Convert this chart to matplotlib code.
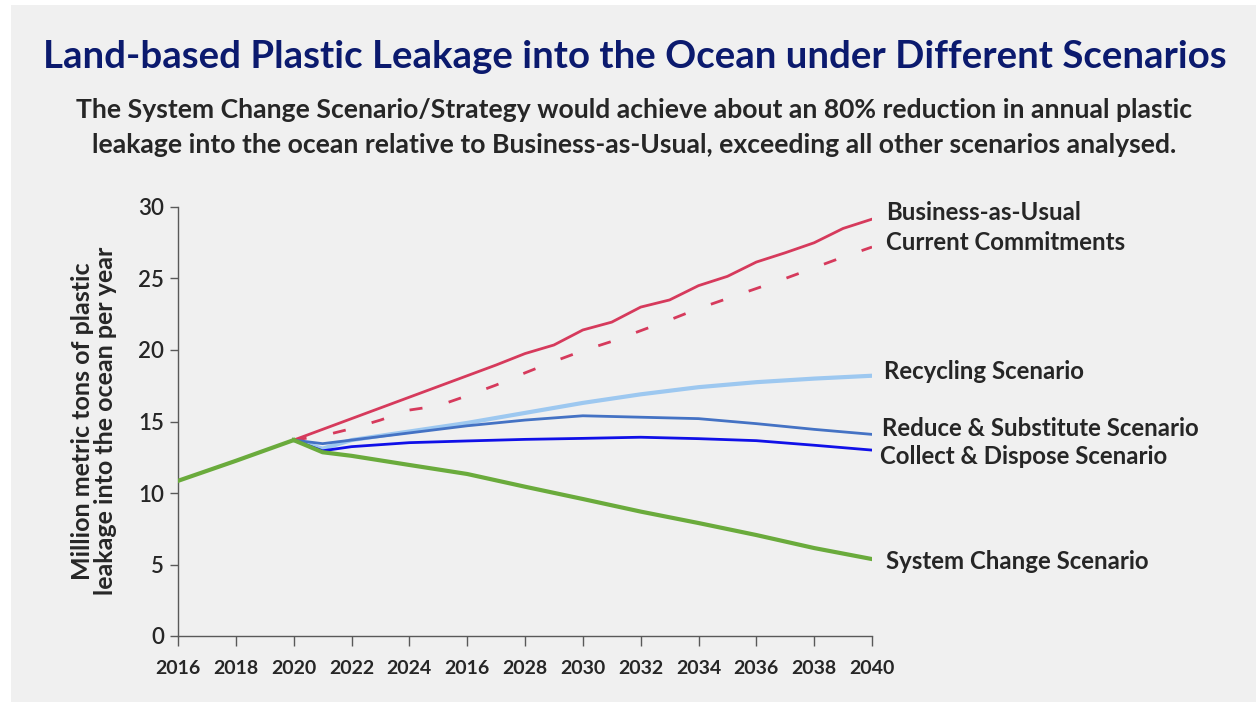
import matplotlib.pyplot as plt
from matplotlib.patches import Rectangle

plt.rcParams['font.family'] = ['Lato', 'DejaVu Sans']

# ---- data (million metric tons per year) ----
hist_years = [2016, 2018, 2020]
hist_vals = [10.85, 12.25, 13.7]

years = list(range(2020, 2041))
bau = [13.7, 14.45, 15.2, 15.95, 16.7, 17.45, 18.2, 18.95, 19.75, 20.35, 21.4,
       21.95, 23.0, 23.5, 24.5, 25.15, 26.15, 26.8, 27.5, 28.5, 29.15]
commitments = [13.7, 14.0, 14.5, 15.1, 15.8, 16.1, 16.8, 17.55, 18.4, 19.2, 19.95,
               20.6, 21.35, 22.1, 22.9, 23.6, 24.3, 25.0, 25.75, 26.5, 27.2]

sc_years = [2020, 2021, 2022, 2024, 2026, 2028, 2030, 2032, 2034, 2036, 2038, 2040]
recycling = [13.7, 13.1, 13.7, 14.3, 14.9, 15.6, 16.3, 16.9, 17.4, 17.75, 18.0, 18.2]
reduce_sub = [13.7, 13.45, 13.7, 14.2, 14.7, 15.1, 15.4, 15.3, 15.2, 14.85, 14.45, 14.1]
collect = [13.7, 12.95, 13.24, 13.52, 13.64, 13.75, 13.82, 13.9, 13.8, 13.66, 13.34, 13.0]
system_change = [13.7, 12.85, 12.6, 11.96, 11.33, 10.44, 9.58, 8.7, 7.9, 7.06, 6.15, 5.38]

tick_years = list(range(2016, 2041, 2))
tick_labels = ['2016', '2018', '2020', '2022', '2024', '2016', '2028', '2030',
               '2032', '2034', '2036', '2038', '2040']

series_names = ['Business-as-Usual', 'Current Commitments', 'Recycling Scenario',
                'Reduce & Substitute Scenario', 'Collect & Dispose Scenario',
                'System Change Scenario']
label_y = [29.6, 27.55, 18.5, 14.5, 12.55, 5.2]
label_dx = [0.5, 0.5, 0.43, 0.33, 0.28, 0.5]

TXT = '#262626'
fig = plt.figure(figsize=(12.56, 7.02), dpi=100, facecolor='white')
fig.patches.append(Rectangle((11 / 1256, 0), 1 - 11 / 1256, 1 - 5 / 702,
                             transform=fig.transFigure, facecolor='#f0f0f0',
                             edgecolor='none', zorder=-10))

ax = fig.add_axes([178 / 1256, 66 / 702, 694 / 1256, 429 / 702])
ax.set_facecolor('none')

ax.plot(years, bau, color='#d63a5c', lw=2.0, zorder=3)
ax.plot(years, commitments, color='#d63a5c', lw=2.0, dashes=(4.7, 9.7), zorder=3)
ax.plot(sc_years, recycling, color='#9dc8f0', lw=3.0, zorder=2)
ax.plot(sc_years, reduce_sub, color='#4472c4', lw=2.0, zorder=3)
ax.plot(sc_years, collect, color='#1010e8', lw=2.0, zorder=3)
ax.plot(sc_years, system_change, color='#6aab3c', lw=3.0, zorder=4)
ax.plot(hist_years, hist_vals, color='#6aab3c', lw=3.0, zorder=4)

ax.set_xlim(2016, 2040)
ax.set_ylim(0, 30)
ax.set_xticks(tick_years)
ax.set_xticklabels(tick_labels)
ax.set_yticks(range(0, 31, 5))
for s in ['top', 'right']:
    ax.spines[s].set_visible(False)
for s in ['left', 'bottom']:
    ax.spines[s].set_color('#595959')
    ax.spines[s].set_linewidth(1.0)
ax.tick_params(axis='x', length=7, width=1, color='#595959', pad=10,
               labelsize=14, labelcolor=TXT)
ax.tick_params(axis='y', length=6, width=1, color='#595959', pad=4,
               labelsize=16, labelcolor=TXT)
for lab in ax.get_xticklabels():
    lab.set_fontweight('bold')
for lab in ax.get_yticklabels():
    lab.set_fontweight('semibold')

for name, y, dx in zip(series_names, label_y, label_dx):
    ax.text(2040 + dx, y, name, fontsize=17.3, fontweight='bold', color=TXT,
            va='center', ha='left', clip_on=False)

fig.text(0.5056, 1 - 68 / 702, 'Land-based Plastic Leakage into the Ocean under Different Scenarios',
         ha='center', va='baseline', fontsize=27.6, fontweight='bold', color='#0b1a6e')
fig.text(634 / 1256, 1 - 118 / 702,
         'The System Change Scenario/Strategy would achieve about an 80% reduction in annual plastic',
         ha='center', va='baseline', fontsize=19.1, fontweight='bold', color=TXT)
fig.text(634 / 1256, 1 - 153 / 702,
         'leakage into the ocean relative to Business-as-Usual, exceeding all other scenarios analysed.',
         ha='center', va='baseline', fontsize=19.1, fontweight='bold', color=TXT)
fig.text(94 / 1256, 1 - 421 / 702,
         'Million metric tons of plastic\nleakage into the ocean per year',
         ha='center', va='center', rotation=90, fontsize=18, fontweight='bold',
         color=TXT, linespacing=1.05)

fig.savefig('out.png', dpi=100, facecolor=fig.get_facecolor())
